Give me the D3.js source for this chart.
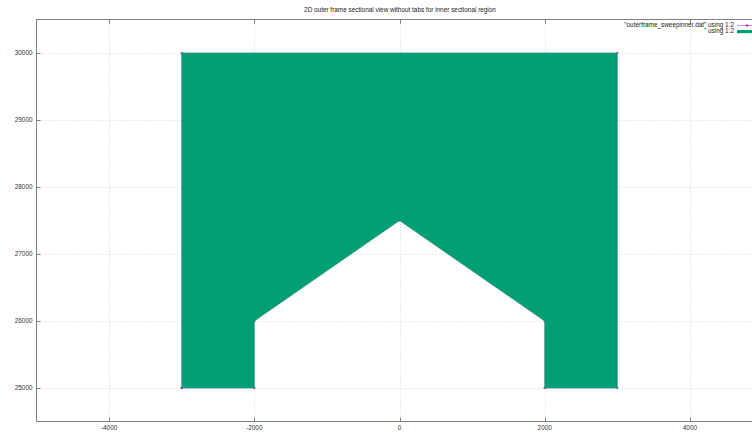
<!DOCTYPE html>
<html>
<head>
<meta charset="utf-8">
<script src="https://cdn.jsdelivr.net/npm/d3@7"></script>
<style>
  html, body { margin: 0; padding: 0; background: #fff; }
  svg { display: block; font-family: "Liberation Sans", Arial, sans-serif; }
</style>
</head>
<body>
<svg id="chart" width="752" height="435"></svg>
<script>
// Outline of the outer frame cross-section (x, y) in drawing order
const frameX = [-3000, -3000, 3000, 3000, 2000, 2000, 0, -2000, -2000, -3000];
const frameY = [25000, 30000, 30000, 25000, 25000, 26000, 27500, 26000, 25000, 25000];

const xTicks = [-4000, -2000, 0, 2000, 4000];
const yTicks = [25000, 26000, 27000, 28000, 29000, 30000];
const xDomain = [-5000, 5000];
const yDomain = [24500, 30500];

const titleText = "2D outer frame sectional view without tabs for inner sectional region";
const seriesNames = ["\"outerframe_sweepinner.dat\" using 1:2", "\" using 1:2"];
const seriesColors = ["#9400d3", "#009e73"];

const svg = d3.select("#chart");
const W = 752, H = 435;
const m = { left: 36.5, top: 19.5, bottom: 421.5 };

const x = d3.scaleLinear().domain(xDomain).range([m.left, 762.5]);
const y = d3.scaleLinear().domain(yDomain).range([m.bottom, m.top]);

const pts = frameX.map((v, i) => [v, frameY[i]]);
const fontSize = 6.4;
const borderColor = "#7f7f7f";

// grid
const grid = svg.append("g");
grid.selectAll(".gx").data(xTicks).enter().append("line")
  .attr("x1", d => Math.round(x(d)) + 0.5).attr("x2", d => Math.round(x(d)) + 0.5)
  .attr("y1", m.top).attr("y2", m.bottom)
  .attr("stroke", "#d8d8d8").attr("stroke-width", 0.7).attr("stroke-dasharray", "1.5,1.5");
grid.selectAll(".gy").data(yTicks).enter().append("line")
  .attr("x1", m.left).attr("x2", W)
  .attr("y1", d => Math.round(y(d)) + 0.5).attr("y2", d => Math.round(y(d)) + 0.5)
  .attr("stroke", "#d8d8d8").attr("stroke-width", 0.7).attr("stroke-dasharray", "1.5,1.5");

// series 1: outline with point markers (mostly hidden under the fill)
const line = d3.line().x(d => x(d[0])).y(d => y(d[1]));
svg.append("path").datum(pts).attr("d", line)
  .attr("fill", "none").attr("stroke", seriesColors[0]).attr("stroke-width", 0.3);
const plus = d3.symbol().type(d3.symbolCross).size(4);
svg.selectAll(".pt").data(pts).enter().append("path")
  .attr("d", plus).attr("transform", d => `translate(${x(d[0])},${y(d[1])})`)
  .attr("fill", seriesColors[0]).attr("opacity", 0.7);

// series 2: filled region
svg.append("path").datum(pts).attr("d", d => line(d) + "Z")
  .attr("fill", seriesColors[1]).attr("stroke", seriesColors[1]).attr("stroke-width", 0.4);

// border
const border = svg.append("g").attr("stroke", borderColor).attr("stroke-width", 1).attr("fill", "none");
border.append("line").attr("x1", m.left).attr("x2", W).attr("y1", m.top).attr("y2", m.top);
border.append("line").attr("x1", m.left).attr("x2", W).attr("y1", m.bottom).attr("y2", m.bottom);
border.append("line").attr("x1", m.left).attr("x2", m.left).attr("y1", m.top).attr("y2", m.bottom);

// tick marks (inward, mirrored on top)
const tl = 4;
xTicks.forEach(d => {
  const px = Math.round(x(d)) + 0.5;
  border.append("line").attr("x1", px).attr("x2", px).attr("y1", m.bottom).attr("y2", m.bottom - tl);
  border.append("line").attr("x1", px).attr("x2", px).attr("y1", m.top).attr("y2", m.top + tl);
});
yTicks.forEach(d => {
  const py = Math.round(y(d)) + 0.5;
  border.append("line").attr("x1", m.left).attr("x2", m.left + tl).attr("y1", py).attr("y2", py);
});

// tick labels
svg.selectAll(".xl").data(xTicks).enter().append("text")
  .attr("x", d => x(d)).attr("y", m.bottom + 8)
  .attr("text-anchor", "middle").attr("font-size", fontSize).attr("fill", "#333")
  .text(d => String(d));
svg.selectAll(".yl").data(yTicks).enter().append("text")
  .attr("x", m.left - 4).attr("y", d => y(d) + 2.3)
  .attr("text-anchor", "end").attr("font-size", fontSize).attr("fill", "#333")
  .text(d => d);

// title
svg.append("text").attr("x", 400).attr("y", 11.5)
  .attr("text-anchor", "middle").attr("font-size", fontSize).attr("fill", "#222")
  .text(titleText);

// legend
const lg = svg.append("g");
const lx = 734, lyy = [27.3, 33.3];
seriesNames.forEach((n, i) => {
  lg.append("text").attr("x", lx).attr("y", lyy[i])
    .attr("text-anchor", "end").attr("font-size", fontSize).attr("fill", "#222").text(n);
});
lg.append("line").attr("x1", 737).attr("x2", 760).attr("y1", 25.5).attr("y2", 25.5)
  .attr("stroke", seriesColors[0]).attr("stroke-width", 0.6).attr("opacity", 0.7);
lg.append("path").attr("d", plus).attr("transform", "translate(747,25.5)").attr("fill", seriesColors[0]);
lg.append("rect").attr("x", 737).attr("y", 30).attr("width", 24).attr("height", 3.2)
  .attr("fill", seriesColors[1]);
</script>
</body>
</html>
